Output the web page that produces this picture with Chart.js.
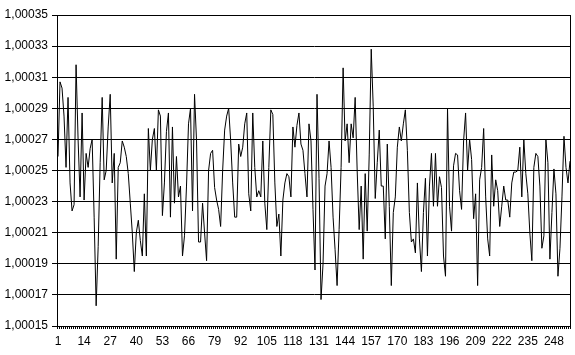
<!DOCTYPE html>
<html>
<head>
<meta charset="utf-8">
<script src="https://cdn.jsdelivr.net/npm/chart.js@4.4.1/dist/chart.umd.min.js"></script>
<style>
  html, body { margin: 0; padding: 0; background: #fff; }
  #wrap { width: 575px; height: 355px; }
</style>
</head>
<body>
<div id="wrap"><canvas id="seriesChart" width="575" height="355"></canvas></div>
<script>
// categories 1..256 (index labels only)
const categories = Array.from({ length: 256 }, (_, i) => String(i + 1));

// values
const values = [
  1.000259, 1.000307, 1.000303, 1.000285, 1.000252, 1.000297, 1.000242, 1.000224, 1.000228, 1.000318, 1.000270, 1.000233, 1.000287, 1.000231, 1.000261, 1.000252,
  1.000264, 1.000270, 1.000220, 1.000163, 1.000201, 1.000255, 1.000297, 1.000244, 1.000250, 1.000278, 1.000299, 1.000242, 1.000261, 1.000193, 1.000252, 1.000255,
  1.000269, 1.000265, 1.000259, 1.000248, 1.000229, 1.000210, 1.000185, 1.000210, 1.000218, 1.000205, 1.000195, 1.000235, 1.000195, 1.000277, 1.000250, 1.000270,
  1.000277, 1.000250, 1.000289, 1.000285, 1.000221, 1.000242, 1.000275, 1.000287, 1.000220, 1.000278, 1.000229, 1.000259, 1.000233, 1.000240, 1.000195, 1.000208,
  1.000240, 1.000280, 1.000290, 1.000224, 1.000299, 1.000269, 1.000204, 1.000204, 1.000229, 1.000210, 1.000192, 1.000250, 1.000261, 1.000263, 1.000239, 1.000231,
  1.000225, 1.000214, 1.000250, 1.000276, 1.000285, 1.000290, 1.000269, 1.000242, 1.000220, 1.000220, 1.000267, 1.000259, 1.000265, 1.000280, 1.000287, 1.000235,
  1.000224, 1.000287, 1.000252, 1.000233, 1.000237, 1.000233, 1.000269, 1.000229, 1.000212, 1.000252, 1.000289, 1.000286, 1.000242, 1.000214, 1.000222, 1.000195,
  1.000231, 1.000242, 1.000248, 1.000246, 1.000233, 1.000278, 1.000265, 1.000279, 1.000287, 1.000267, 1.000263, 1.000248, 1.000233, 1.000280, 1.000269, 1.000225,
  1.000186, 1.000299, 1.000245, 1.000167, 1.000190, 1.000240, 1.000248, 1.000269, 1.000252, 1.000220, 1.000199, 1.000176, 1.000212, 1.000252, 1.000316, 1.000269,
  1.000280, 1.000255, 1.000280, 1.000271, 1.000297, 1.000250, 1.000212, 1.000240, 1.000193, 1.000248, 1.000211, 1.000260, 1.000328, 1.000291, 1.000232, 1.000255,
  1.000276, 1.000240, 1.000240, 1.000206, 1.000267, 1.000227, 1.000176, 1.000223, 1.000233, 1.000265, 1.000278, 1.000269, 1.000280, 1.000289, 1.000263, 1.000223,
  1.000204, 1.000206, 1.000197, 1.000242, 1.000206, 1.000185, 1.000223, 1.000245, 1.000195, 1.000240, 1.000261, 1.000227, 1.000261, 1.000227, 1.000246, 1.000239,
  1.000195, 1.000182, 1.000290, 1.000227, 1.000211, 1.000253, 1.000261, 1.000260, 1.000237, 1.000225, 1.000269, 1.000287, 1.000250, 1.000270, 1.000257, 1.000219,
  1.000235, 1.000176, 1.000244, 1.000252, 1.000277, 1.000233, 1.000206, 1.000195, 1.000260, 1.000227, 1.000244, 1.000237, 1.000214, 1.000227, 1.000240, 1.000231,
  1.000231, 1.000220, 1.000242, 1.000249, 1.000249, 1.000250, 1.000265, 1.000233, 1.000270, 1.000248, 1.000235, 1.000210, 1.000192, 1.000252, 1.000261, 1.000259,
  1.000240, 1.000200, 1.000208, 1.000270, 1.000255, 1.000193, 1.000223, 1.000251, 1.000235, 1.000182, 1.000200, 1.000233, 1.000272, 1.000252, 1.000242, 1.000256
];

const yTicks = [1.00015, 1.00017, 1.00019, 1.00021, 1.00023, 1.00025, 1.00027, 1.00029, 1.00031, 1.00033, 1.00035];
const xLabelStep = 13; // 1, 14, 27, ... 248

const axisFont = { family: 'Liberation Sans, Arial, sans-serif', size: 12 };

// black frame round the plot area
const plotFrame = {
    id: 'plotFrame',
    afterDraw(chart) {
        const a = chart.chartArea;
        const c = chart.ctx;
        c.save();
        c.strokeStyle = '#000';
        c.lineWidth = 1;
        c.strokeRect(Math.round(a.left) + 0.5, Math.round(a.top) + 0.5,
                     Math.round(a.right - a.left) - 1, Math.round(a.bottom - a.top));
        c.restore();
    }
};

new Chart(document.getElementById('seriesChart').getContext('2d'), {
    type: 'line',
    data: {
        labels: categories,
        datasets: [{
            data: values,
            borderColor: '#000',
            borderWidth: 1,
            pointRadius: 0,
            tension: 0,
            fill: false
        }]
    },
    options: {
        responsive: false,
        animation: false,
        devicePixelRatio: 1,
        layout: { padding: { top: 15, right: 4, left: 0, bottom: 0 } },
        plugins: {
            legend: { display: false },
            tooltip: { enabled: false }
        },
        scales: {
            x: {
                type: 'category',
                offset: true,
                grid: { drawOnChartArea: false, drawTicks: true, tickLength: 3, color: '#000', offset: true },
                border: { color: '#000' },
                ticks: {
                    autoSkip: false,
                    maxRotation: 0,
                    color: '#000',
                    font: axisFont,
                    padding: 5,
                    callback: (v, i) => (i % xLabelStep === 0 ? categories[i] : '')
                },
                afterFit: s => { s.height = 29; }
            },
            y: {
                min: yTicks[0],
                max: yTicks[yTicks.length - 1],
                afterBuildTicks: s => { s.ticks = yTicks.map(v => ({ value: v })); },
                grid: { color: '#000', tickLength: 5 },
                border: { color: '#000' },
                ticks: {
                    color: '#000',
                    font: axisFont,
                    padding: 4,
                    callback: v => v.toFixed(5).replace('.', ',')
                },
                afterFit: s => { s.width = 57; }
            }
        }
    },
    plugins: [plotFrame]
});
</script>
</body>
</html>
